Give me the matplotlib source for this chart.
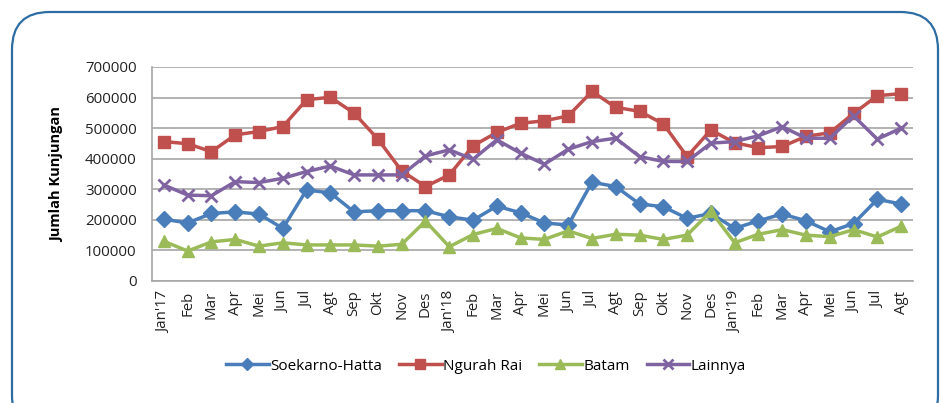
import matplotlib
matplotlib.use("Agg")
import matplotlib.pyplot as plt
from matplotlib.patches import FancyBboxPatch

months = ["Jan'17", "Feb", "Mar", "Apr", "Mei", "Jun", "Jul", "Agt", "Sep", "Okt", "Nov", "Des",
          "Jan'18", "Feb", "Mar", "Apr", "Mei", "Jun", "Jul", "Agt", "Sep", "Okt", "Nov", "Des",
          "Jan'19", "Feb", "Mar", "Apr", "Mei", "Jun", "Jul", "Agt"]

soekarno_hatta = [202000, 190000, 221000, 226000, 219000, 172000, 298000, 288000, 226000, 230000, 230000, 230000,
                  210000, 199000, 245000, 223000, 190000, 183000, 323000, 309000, 252000, 243000, 205000, 221000,
                  172000, 197000, 219000, 197000, 161000, 188000, 267000, 252000]
ngurah_rai = [456000, 449000, 423000, 478000, 489000, 505000, 593000, 601000, 549000, 464000, 360000, 309000,
              347000, 442000, 486000, 516000, 524000, 540000, 620000, 568000, 555000, 514000, 407000, 494000,
              452000, 436000, 440000, 473000, 485000, 548000, 606000, 613000]
batam = [130000, 98000, 128000, 136000, 114000, 125000, 118000, 118000, 118000, 114000, 120000, 196000,
         112000, 152000, 172000, 141000, 136000, 164000, 139000, 153000, 150000, 136000, 150000, 228000,
         125000, 153000, 168000, 150000, 145000, 168000, 144000, 179000]
lainnya = [314000, 281000, 279000, 325000, 322000, 336000, 358000, 376000, 347000, 347000, 347000, 409000,
           429000, 398000, 462000, 418000, 382000, 431000, 456000, 467000, 407000, 391000, 391000, 451000,
           456000, 475000, 505000, 467000, 467000, 540000, 464000, 500000]

series = [
    ("Soekarno-Hatta", soekarno_hatta, "#4A7EBB", "D", 8),
    ("Ngurah Rai", ngurah_rai, "#C0504D", "s", 9),
    ("Batam", batam, "#9BBB59", "^", 9),
    ("Lainnya", lainnya, "#8064A2", "x", 9),
]

plt.rcParams['font.family'] = ['Open Sans', 'DejaVu Sans']

fig = plt.figure(figsize=(9.42, 4.03), dpi=100)

# rounded outer frame (bottom runs off the picture)
frame = FancyBboxPatch((12 / 942, -30 / 403), 926 / 942, (403 - 12 + 30) / 403,
                       boxstyle="round,pad=0,rounding_size=0.04",
                       mutation_aspect=942 / 403,
                       transform=fig.transFigure, facecolor="none",
                       edgecolor="#2E6DA4", linewidth=1.6, zorder=-1)
fig.patches.append(frame)

ax = fig.add_axes([152 / 942, 1 - 281 / 403, 761 / 942, 214 / 403])
ax.set_facecolor("none")

x = list(range(len(months)))
handles = []
for name, vals, color, marker, ms in series:
    mew = 2 if marker == "x" else 1
    h, = ax.plot(x, vals, color=color, linewidth=2.5, marker=marker, markersize=ms,
                 markeredgewidth=mew, label=name)
    handles.append(h)

ax.set_xlim(-0.5, len(months) - 0.5)
ax.set_ylim(0, 700000)
ax.set_yticks(range(0, 700001, 100000))
ax.set_yticklabels([str(v) for v in range(0, 700001, 100000)])
ax.set_xticks(x)
ax.set_xticklabels(months, rotation=90)
ax.tick_params(axis="both", length=0, labelsize=10.8, colors="#222222")
ax.tick_params(axis="y", pad=11)
ax.tick_params(axis="x", pad=7)
ax.yaxis.grid(True, color="#A6A6A6", linewidth=1.2)
ax.set_axisbelow(True)
for s in ["top", "right"]:
    ax.spines[s].set_visible(False)
for s in ["left", "bottom"]:
    ax.spines[s].set_color("#A6A6A6")
    ax.spines[s].set_linewidth(1.2)

ax.set_ylabel("Jumlah Kunjungan", fontsize=10.5, fontweight="bold")
ax.yaxis.set_label_coords(-0.115, 0.5)

fig.legend(handles=handles, loc="center", bbox_to_anchor=(486 / 942, 1 - 366 / 403),
           ncol=4, frameon=False, fontsize=11, handlelength=2.8, handletextpad=0.1,
           columnspacing=1.1, markerscale=0.75)

fig.savefig("out.png", dpi=100)
